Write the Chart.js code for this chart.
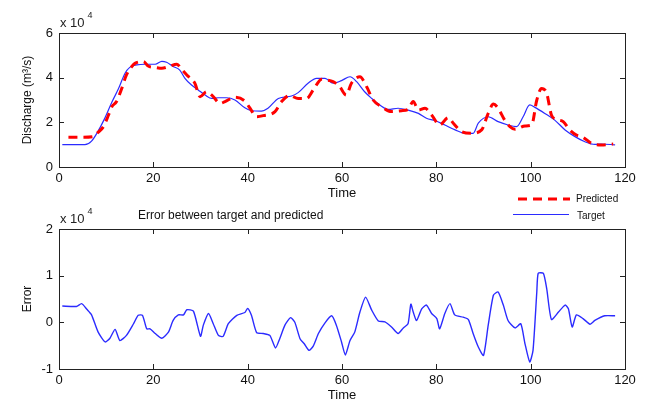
<!DOCTYPE html>
<html>
<head>
<meta charset="utf-8">
<script src="https://cdn.jsdelivr.net/npm/chart.js@4"></script>
<style>
  body { margin: 0; background: #fff; }
  #wrap { position: relative; width: 650px; height: 405px; }
  canvas { position: absolute; left: 0; top: 0; }
</style>
</head>
<body>
<div id="wrap">
  <canvas id="top" width="650" height="405"></canvas>
  <canvas id="bottom" width="650" height="405"></canvas>
</div>
<script>
// discharge values are in units of 1e4 m3/s, as on the axis
const timeTarget = [0.7, 2, 5.5, 6.9, 8, 9.75, 11.2, 12.6, 14, 15, 16.5, 18.2, 20.4, 21.8, 22.8, 24.2, 25.6, 26.7, 28.1, 29.5, 31, 32.4, 33.8, 35.5, 37.3, 39.4, 40.8, 42.9, 44.3, 46.5, 49.3, 50.7, 52.8, 54.6, 56.4, 58.1, 59.9, 61.7, 63.1, 64.8, 66.3, 68, 69.8, 71.9, 74, 76.2, 77.9, 79.7, 81.8, 84, 86.1, 87.8, 88.9, 91, 93.1, 95.2, 97, 98.4, 99.8, 100.9, 103, 105.1, 107.3, 109.4, 111.5, 113.6, 115, 117.9];
const target = [1.0, 1.0, 1.0, 1.16, 1.5, 2.2, 2.9, 3.5, 4.2, 4.46, 4.57, 4.6, 4.6, 4.73, 4.69, 4.5, 4.34, 3.97, 3.67, 3.45, 3.22, 3.07, 3.1, 3.1, 3.0, 2.65, 2.52, 2.5, 2.63, 3.07, 3.18, 3.33, 3.75, 3.97, 3.97, 3.75, 3.87, 4.04, 3.82, 3.37, 3.07, 2.78, 2.58, 2.63, 2.55, 2.4, 2.18, 2.08, 1.88, 1.66, 1.51, 1.51, 1.96, 2.25, 2.03, 1.88, 1.81, 2.25, 2.78, 2.67, 2.4, 2.1, 1.66, 1.36, 1.13, 1.01, 1.03, 0.99];

const timePred = [2, 5, 7.3, 8, 9.4, 10.5, 11.2, 12.2, 13.3, 14.3, 15.4, 16.1, 17.9, 18.9, 20.4, 21.8, 23.2, 25, 26, 27.1, 28.8, 29.9, 31.3, 32.4, 34.2, 35.2, 37.3, 39.4, 40.5, 41.9, 43.3, 45.8, 47.2, 48.9, 50.7, 52.5, 53.9, 55.7, 56.7, 58.1, 59.5, 60.9, 62, 63.8, 65.2, 66.6, 68.4, 70.5, 72.6, 74, 75.1, 76.2, 77.6, 79, 80.7, 82.5, 83.6, 85.4, 87.5, 89.6, 91, 92.1, 93.1, 94.5, 95.6, 96.7, 98.8, 100.2, 101.3, 102.3, 103.4, 104.4, 105.5, 106.9, 108.3, 109.7, 111.1, 112.9, 115, 117.5];
const predicted = [1.33, 1.33, 1.36, 1.5, 1.8, 2.33, 2.7, 2.93, 3.52, 4.12, 4.49, 4.64, 4.72, 4.52, 4.46, 4.42, 4.49, 4.6, 4.37, 4.12, 3.75, 3.15, 3.37, 3.22, 2.85, 2.93, 3.12, 2.95, 2.63, 2.25, 2.3, 2.48, 2.93, 3.2, 3.07, 3.07, 3.45, 3.93, 3.9, 3.82, 3.6, 3.22, 3.75, 4.04, 3.6, 3.0, 2.7, 2.48, 2.52, 2.58, 2.93, 2.55, 2.63, 2.33, 1.88, 2.21, 1.96, 1.58, 1.51, 1.66, 2.4, 2.82, 2.63, 2.1, 1.81, 1.69, 1.84, 1.88, 3.0, 3.52, 3.3, 2.33, 2.13, 2.03, 1.66, 1.43, 1.33, 1.06, 0.99, 1.03];

const timeErr = [0.7, 3.7, 4.8, 5.9, 6.9, 8.3, 9.8, 10.8, 11.9, 12.9, 14.3, 15.8, 16.8, 17.7, 18.6, 19.3, 20.4, 21.8, 23.2, 24.2, 25.3, 26.4, 27.1, 28.5, 30, 30.6, 31.7, 32.7, 33.8, 34.8, 35.9, 37.7, 39.4, 40, 40.8, 41.9, 43.3, 44.7, 45.9, 46.8, 47.9, 49.1, 50, 51.1, 52, 53, 53.9, 55, 56.4, 57.8, 58.8, 59.9, 60.7, 61.7, 62.7, 63.8, 65, 66.3, 67.7, 69.1, 70.5, 71.9, 73, 74, 74.6, 75.1, 75.8, 76.9, 77.9, 79, 80.1, 80.7, 81.8, 82.9, 83.9, 85.7, 86.8, 87.8, 88.9, 90, 91, 92.1, 93.1, 94.2, 95.2, 96.7, 97.9, 98.8, 99.8, 100.5, 101.3, 101.6, 102.7, 103.4, 104.4, 105.9, 107.3, 108, 108.8, 109.7, 111.1, 112.6, 113.6, 115.7, 117.9];
const errorVals = [0.35, 0.34, 0.4, 0.28, 0.16, -0.21, -0.42, -0.34, -0.15, -0.39, -0.28, -0.03, 0.15, 0.15, -0.14, -0.14, -0.24, -0.34, -0.21, 0.04, 0.16, 0.16, 0.27, 0.24, -0.3, -0.06, 0.19, -0.03, -0.28, -0.3, -0.03, 0.15, 0.21, 0.3, 0.15, -0.22, -0.24, -0.28, -0.55, -0.35, -0.06, 0.1, 0.0, -0.35, -0.46, -0.6, -0.51, -0.24, -0.01, 0.14, -0.06, -0.42, -0.7, -0.39, -0.21, 0.22, 0.54, 0.26, 0.03, 0.01, -0.1, -0.24, -0.12, -0.03, 0.39, 0.22, 0.04, 0.29, 0.37, 0.19, 0.08, -0.14, 0.19, 0.4, 0.16, 0.11, 0.06, -0.24, -0.53, -0.71, -0.06, 0.58, 0.65, 0.37, 0.04, -0.12, -0.03, -0.46, -0.85, -0.6, 0.65, 1.05, 1.05, 0.72, 0.06, 0.22, 0.37, 0.29, -0.1, 0.16, 0.08, -0.04, 0.04, 0.14, 0.14];

const timeTicks = [0, 20, 40, 60, 80, 100, 120];
const dischargeTicks = [0, 2, 4, 6];
const errorTicks = [-1, 0, 1, 2];

const FONT = 'Liberation Sans, Arial, sans-serif';

function toPoints(xs, ys) {
    return xs.map((x, i) => ({ x: x, y: ys[i] }));
}

// MATLAB style box with ticks pointing inwards, plus loose text
function boxPlugin(extra) {
    return {
        id: 'box',
        afterDraw(chart) {
            const ctx = chart.ctx;
            const a = chart.chartArea;
            const xs = chart.scales.x, ys = chart.scales.y;
            ctx.save();
            ctx.strokeStyle = '#222';
            ctx.lineWidth = 1;
            ctx.strokeRect(a.left + 0.5, a.top + 0.5, a.right - a.left, a.bottom - a.top);
            ctx.beginPath();
            xs.ticks.forEach(t => {
                const px = Math.round(xs.getPixelForValue(t.value)) + 0.5;
                ctx.moveTo(px, a.bottom); ctx.lineTo(px, a.bottom - 5);
                ctx.moveTo(px, a.top); ctx.lineTo(px, a.top + 5);
            });
            ys.ticks.forEach(t => {
                const py = Math.round(ys.getPixelForValue(t.value)) + 0.5;
                ctx.moveTo(a.left, py); ctx.lineTo(a.left + 5, py);
                ctx.moveTo(a.right, py); ctx.lineTo(a.right - 5, py);
            });
            ctx.stroke();
            extra(ctx);
            ctx.restore();
        }
    };
}

function exponent(ctx, x, y) {
    ctx.fillStyle = '#222';
    ctx.font = '13px ' + FONT;
    ctx.textAlign = 'left';
    ctx.textBaseline = 'alphabetic';
    ctx.fillText('x 10', x, y);
    const w = ctx.measureText('x 10').width;
    ctx.font = '9px ' + FONT;
    ctx.fillText('4', x + w + 3, y - 9);
}

function axisX(showTitle) {
    return {
        type: 'linear', min: 0, max: 120,
        afterBuildTicks: s => { s.ticks = timeTicks.map(v => ({ value: v })); },
        grid: { display: false, drawTicks: false },
        border: { display: false },
        ticks: { color: '#111', font: { family: FONT, size: 13 }, padding: 4, maxRotation: 0 },
        title: { display: showTitle, text: 'Time', color: '#111', font: { family: FONT, size: 13 }, padding: { top: 0, bottom: 0 } },
        afterFit: s => { s.height = 34; }
    };
}

function axisY(min, max, ticks, label) {
    return {
        min: min, max: max,
        afterBuildTicks: s => { s.ticks = ticks.map(v => ({ value: v })); },
        grid: { display: false, drawTicks: false },
        border: { display: false },
        ticks: { color: '#111', font: { family: FONT, size: 13 }, padding: 6 },
        title: { display: true, text: label, color: '#111', font: { family: FONT, size: 12 }, padding: { top: 0, bottom: 0 } },
        afterFit: s => { s.width = 39; }
    };
}

new Chart(document.getElementById('top'), {
    type: 'line',
    data: {
        datasets: [
            {
                label: 'Predicted',
                data: toPoints(timePred, predicted),
                borderColor: '#ff0000',
                borderWidth: 3,
                borderDash: [9, 6],
                pointRadius: 0,
                cubicInterpolationMode: 'monotone',
                tension: 0.3
            },
            {
                label: 'Target',
                data: toPoints(timeTarget, target),
                borderColor: '#2b2bff',
                borderWidth: 1.2,
                pointRadius: 0,
                cubicInterpolationMode: 'monotone',
                tension: 0.3
            }
        ]
    },
    options: {
        responsive: false,
        animation: false,
        devicePixelRatio: 1,
        layout: { padding: { left: 20, right: 25, top: 33, bottom: 204 } },
        plugins: { legend: { display: false }, tooltip: { enabled: false } },
        scales: { x: axisX(true), y: axisY(0, 6, dischargeTicks, 'Discharge (m³/s)') }
    },
    plugins: [boxPlugin(ctx => {
        exponent(ctx, 60, 27);
        // legend
        ctx.lineWidth = 3;
        ctx.strokeStyle = '#ff0000';
        ctx.setLineDash([9, 6]);
        ctx.beginPath(); ctx.moveTo(518, 199); ctx.lineTo(570, 199); ctx.stroke();
        ctx.setLineDash([]);
        ctx.lineWidth = 1.2;
        ctx.strokeStyle = '#2b2bff';
        ctx.beginPath(); ctx.moveTo(513, 214.5); ctx.lineTo(569, 214.5); ctx.stroke();
        ctx.fillStyle = '#111';
        ctx.font = '10px ' + FONT;
        ctx.textBaseline = 'middle';
        ctx.fillText('Predicted', 576, 199);
        ctx.fillText('Target', 577, 216);
    })]
});

new Chart(document.getElementById('bottom'), {
    type: 'line',
    data: {
        datasets: [{
            label: 'Error',
            data: toPoints(timeErr, errorVals),
            borderColor: '#2b2bff',
            borderWidth: 1.4,
            pointRadius: 0,
            tension: 0.2
        }]
    },
    options: {
        responsive: false,
        animation: false,
        devicePixelRatio: 1,
        layout: { padding: { left: 20, right: 25, top: 229, bottom: 2 } },
        plugins: { legend: { display: false }, tooltip: { enabled: false } },
        scales: { x: axisX(true), y: axisY(-1, 2, errorTicks, 'Error') }
    },
    plugins: [boxPlugin(ctx => {
        exponent(ctx, 60, 223);
        ctx.fillStyle = '#111';
        ctx.font = '12px ' + FONT;
        ctx.textAlign = 'left';
        ctx.fillText('Error between target and predicted', 138, 219);
    })]
});
</script>
</body>
</html>
